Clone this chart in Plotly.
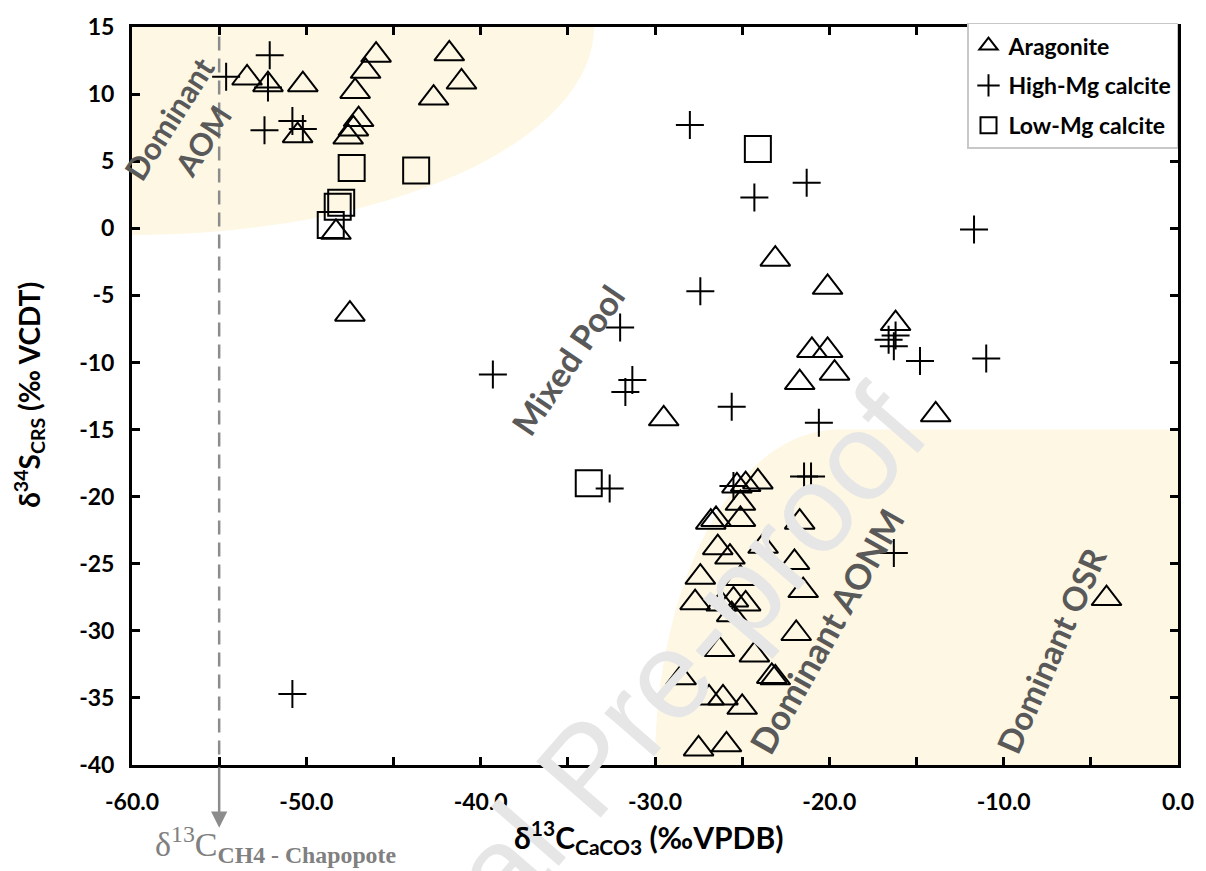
import plotly.graph_objects as go

# ---------------- data ----------------
arag_x = [-53.4, -52.2, -50.2, -50.5, -47.2, -46.6, -46.0, -47.0, -47.3, -47.6,
          -48.3, -47.5, -42.7, -41.8, -41.1,
          -23.1, -20.1, -16.2, -21.0, -20.1, -19.7, -21.7, -29.5, -13.9, -4.1,
          -25.3, -24.8, -24.1, -25.1, -25.1, -26.8, -26.5, -21.7, -23.8, -26.4,
          -25.7, -22.0, -27.4, -25.1, -21.5, -27.7, -26.2, -25.5, -24.8, -25.6,
          -21.9, -26.3, -24.3, -23.3, -23.1, -28.5, -26.9, -26.1, -25.0, -27.5,
          -25.9]
arag_y = [11.2, 10.7, 10.7, 6.9, 10.2, 11.7, 12.9, 8.1, 7.4, 6.8,
          -0.3, -6.4, 9.7, 13.0, 10.9,
          -2.3, -4.4, -7.1, -9.1, -9.1, -10.8, -11.5, -14.2, -13.9, -27.6,
          -19.2, -19.1, -18.9, -20.5, -21.7, -21.9, -21.7, -21.9, -23.7, -23.8,
          -24.5, -24.9, -26.0, -26.1, -27.0, -27.9, -28.0, -27.7, -28.0, -28.8,
          -30.2, -31.4, -31.8, -33.4, -33.5, -33.5, -35.0, -35.0, -35.7, -38.8,
          -38.5]

hmg_x = [-54.6, -52.1, -52.2, -52.4, -50.8, -50.2, -50.8,
         -28.0, -21.3, -24.3, -11.7, -27.4, -32.0, -39.3, -31.3, -31.7,
         -25.6, -20.6, -16.6, -16.2, -16.3, -14.8, -11.0, -32.6, -25.5,
         -21.45, -21.05, -16.3]
hmg_y = [11.3, 12.9, 10.5, 7.3, 8.0, 7.4, -34.7,
         7.7, 3.4, 2.3, -0.1, -4.7, -7.4, -10.9, -11.3, -12.2,
         -13.3, -14.5, -8.3, -8.0, -8.8, -9.9, -9.7, -19.4, -19.2,
         -18.5, -18.5, -24.2]

lmg_x = [-47.4, -43.7, -48.2, -48.0, -48.6, -24.1, -33.8]
lmg_y = [4.5, 4.3, 1.6, 1.9, 0.25, 5.9, -19.0]

series_names = ["Aragonite", "High-Mg calcite", "Low-Mg calcite"]

x_tickvals = [-60, -50, -40, -30, -20, -10, 0]
x_ticktext = ["-60.0", "-50.0", "-40.0", "-30.0", "-20.0", "-10.0", "0.0"]
y_tickvals = [-40, -35, -30, -25, -20, -15, -10, -5, 0, 5, 10, 15]
y_ticktext = ["-40", "-35", "-30", "-25", "-20", "-15", "-10", "-5", "0", "5", "10", "15"]

chapopote_x = -55.0

# ---------------- styling ----------------
FONT = "Lato, 'Noto Sans', sans-serif"
CREAM = "#FDF7E4"
GREY_TXT = "#595959"

fig = go.Figure()

fig.add_trace(go.Scatter(
    x=arag_x, y=arag_y, mode="markers", name=series_names[0],
    legendgroup="a",
    marker=dict(symbol="triangle-up-open", size=26, color="black",
                line=dict(width=2, color="black")),
))
fig.add_trace(go.Scatter(
    x=hmg_x, y=hmg_y, mode="markers", name=series_names[1],
    legendgroup="b",
    marker=dict(symbol="cross-thin-open", size=20, color="black",
                line=dict(width=2, color="black")),
))
fig.add_trace(go.Scatter(
    x=lmg_x, y=lmg_y, mode="markers", name=series_names[2],
    legendgroup="c",
    marker=dict(symbol="square-open", size=26, color="black",
                line=dict(width=2, color="black")),
))

# shaded regions
fig.add_shape(type="circle", xref="x", yref="y", x0=-86.5, x1=-33.5, y0=-0.5, y1=30.5,
              fillcolor=CREAM, line=dict(width=0), layer="below")
fig.add_shape(type="circle", xref="x", yref="y", x0=-30.0, x1=-9.0, y0=-65.0, y1=-15.0,
              fillcolor=CREAM, line=dict(width=0), layer="below")
fig.add_shape(type="rect", xref="x", yref="y", x0=-19.5, x1=0, y0=-40, y1=-15,
              fillcolor=CREAM, line=dict(width=0), layer="below")

# dashed Chapopote line
fig.add_shape(type="line", xref="x", yref="y", x0=chapopote_x, x1=chapopote_x, y0=14.3, y1=-40,
              line=dict(color="#8C8C8C", width=2.5, dash="14px,8px"), layer="below")
fig.add_annotation(x=chapopote_x, xref="x", y=-0.085, yref="paper", ax=0, ay=-62,
                   text="", showarrow=True, arrowhead=2, arrowsize=1.3, arrowwidth=2.5,
                   arrowcolor="#8C8C8C")
fig.add_annotation(x=(276 - 132) / 1049, y=-(845 - 765) / 747, xref="paper", yref="paper",
                   xanchor="center", yanchor="middle", showarrow=False,
                   text="δ<sup>13</sup>C<sub><b>CH4 - Chapopote</b></sub>",
                   font=dict(family="'Liberation Serif', serif", size=34, color="#808080"))

# region labels
def region_label(x, y, text, angle, size):
    fig.add_annotation(x=x, y=y, xref="x", yref="y", text=text, showarrow=False,
                       xanchor="center", yanchor="middle", textangle=angle,
                       font=dict(family=FONT, size=size, color=GREY_TXT, weight="bold"))

region_label(-56.9, 7.4, "Dominant<br>AOM", -57.5, 31)
region_label(-35.0, -9.8, "Mixed Pool", -56, 34)
region_label(-20.2, -30.0, "Dominant AONM", -60.5, 35)
region_label(-7.3, -31.4, "Dominant OSR", -66, 33)

# watermark
fig.add_annotation(x=(588 - 132) / 1049, y=(765 - 768) / 747, xref="paper", yref="paper",
                   xanchor="center", yanchor="middle",
                   text="Journal Pre-proof", showarrow=False, textangle=-49,
                   font=dict(family="'Liberation Sans', Arial, sans-serif", size=124,
                             color="#E6E6E6"))

# axis titles
fig.add_annotation(x=(650 - 132) / 1049, y=-(838 - 765) / 747, xref="paper", yref="paper",
                   xanchor="center", yanchor="middle", showarrow=False,
                   text="δ<sup>13</sup>C<sub>CaCO3</sub> (‰VPDB)",
                   font=dict(family=FONT, size=30, color="black", weight="bold"))
fig.add_annotation(x=(29 - 132) / 1049, y=0.502, xref="paper", yref="paper",
                   xanchor="center", yanchor="middle", showarrow=False,
                   textangle=-90, text="δ<sup>34</sup>S<sub>CRS</sub> (‰ VCDT)",
                   font=dict(family=FONT, size=28, color="black", weight="bold"))

axis_common = dict(showline=True, linewidth=3, linecolor="black", mirror="ticks",
                   ticks="inside", ticklen=8, tickwidth=2.5, tickcolor="black",
                   showgrid=False, zeroline=False,
                   tickfont=dict(family=FONT, size=23, color="black", weight="bold"))

fig.update_xaxes(range=[-60, 0], tickmode="array", tickvals=x_tickvals, ticktext=x_ticktext,
                 minor=dict(dtick=5, tick0=0, ticks="inside", ticklen=8, tickwidth=2.5,
                            tickcolor="black", showgrid=False),
                 ticklabelstandoff=14, **axis_common)
fig.update_yaxes(range=[-40, 15], tickmode="array", tickvals=y_tickvals, ticktext=y_ticktext,
                 ticklabelstandoff=10, **axis_common)

fig.update_layout(
    width=1206, height=871,
    margin=dict(l=132, r=25, t=18, b=106),
    paper_bgcolor="white", plot_bgcolor="white",
    showlegend=True,
    legend=dict(x=1, y=1.006, xanchor="right", yanchor="top",
                bgcolor="white", bordercolor="#C8C8C8", borderwidth=1.5,
                traceorder="grouped", tracegroupgap=7,
                font=dict(family=FONT, size=23, color="black", weight="bold")),
)

fig.write_html("out.html", config={"displayModeBar": False},
               post_script="document.body.style.margin='0';document.body.style.overflow='hidden';")
